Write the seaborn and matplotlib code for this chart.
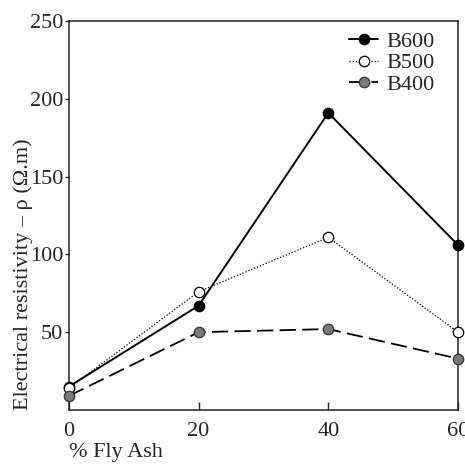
import matplotlib
matplotlib.use("Agg")
import matplotlib.pyplot as plt
import numpy as np
import pandas as pd
import seaborn as sns

# %% Data
fly_ash = [0, 20, 40, 60]
b600 = [15, 67, 191, 106]
b500 = [14, 76, 111, 50]
b400 = [9, 50, 52, 33]

df = pd.DataFrame({
    "fly_ash": fly_ash * 3,
    "rho": b600 + b500 + b400,
    "series": ["B600"] * 4 + ["B500"] * 4 + ["B400"] * 4,
})

# %% Plot
sns.set_theme(style="ticks")
plt.rcParams["font.family"] = ["Liberation Serif", "DejaVu Serif"]
plt.rcParams["mathtext.fontset"] = "stix"

fig = plt.figure(figsize=(4.65, 4.68), dpi=100)
ax = fig.add_axes([0.148, 0.124, 0.837, 0.831])

styles = {
    "B600": dict(color="black", linestyle="-", linewidth=1.4,
                 marker="o", markerfacecolor="black", markeredgecolor="black"),
    "B500": dict(color="black", linestyle=(0, (1, 1.5)), linewidth=0.9,
                 marker="o", markerfacecolor="white", markeredgecolor="black"),
    "B400": dict(color="black", linestyle=(0, (9, 3.5)), linewidth=1.3,
                 marker="o", markerfacecolor="#7a7a7a", markeredgecolor="#333333"),
}

for name in ["B600", "B500", "B400"]:
    sub = df[df["series"] == name]
    sns.lineplot(data=sub, x="fly_ash", y="rho", ax=ax, label=name,
                 markersize=7.5, markeredgewidth=0.9, clip_on=False,
                 zorder=3, **styles[name])

ax.set_xlim(0, 60)
ax.set_ylim(0, 250)
ax.set_xticks([0, 20, 40, 60])
ax.set_yticks([50, 100, 150, 200, 250])

ax.tick_params(axis="x", direction="in", length=6, width=1, pad=9, labelsize=16)
ax.tick_params(axis="y", direction="out", length=3, width=1, pad=1, labelsize=16)
for s in ax.spines.values():
    s.set_linewidth(1.1)
    s.set_color("#222222")

ax.set_xlabel("% Fly Ash", fontsize=16, loc="left")
ax.xaxis.set_label_coords(0.0, -0.085)
ax.set_ylabel("Electrical resistivity \u2013 \u03c1 (\u03a9.m)", fontsize=16, loc="bottom")
ax.yaxis.set_label_coords(-0.093, 0.0)

leg = ax.legend(loc="upper right", bbox_to_anchor=(0.964, 0.997), frameon=False,
                fontsize=16, handlelength=1.3, handletextpad=0.4,
                labelspacing=0.05, borderaxespad=0.0)

fig.savefig("out.png", dpi=100)
